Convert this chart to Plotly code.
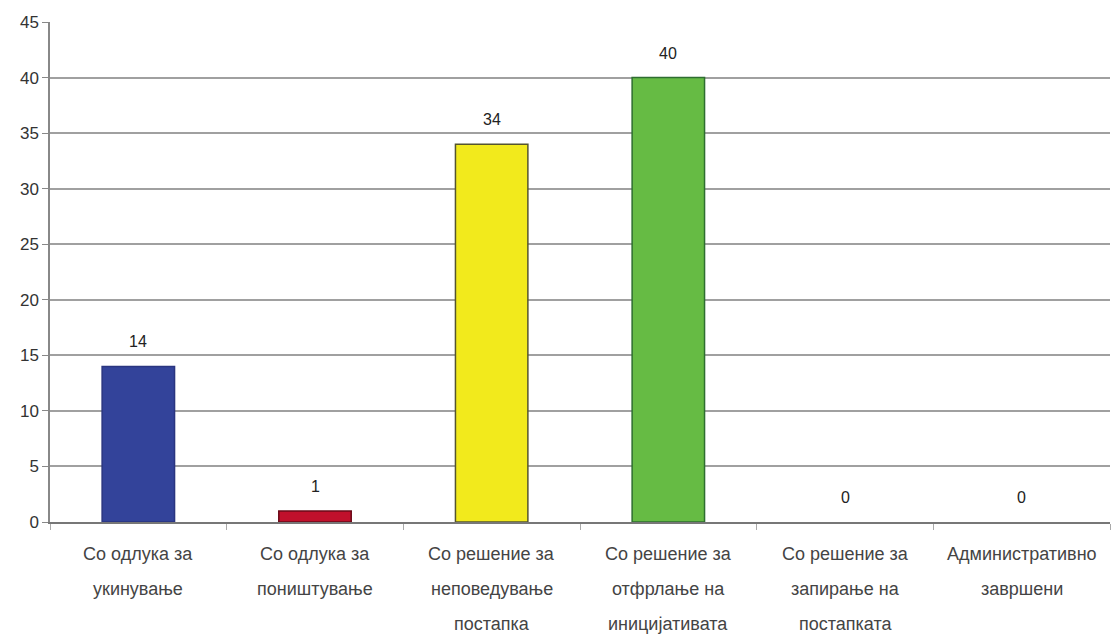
import plotly.graph_objects as go

categories = [
    "Со одлука за<br>укинување",
    "Со одлука за<br>поништување",
    "Со решение за<br>неповедување<br>постапка",
    "Со решение за<br>отфрлање на<br>иницијативата",
    "Со решение за<br>запирање на<br>постапката",
    "Административно<br>завршени",
]
values = [14, 1, 34, 40, 0, 0]
bar_colors = ["#33439a", "#c0102c", "#f2ea1c", "#66bb44", "#66bb44", "#66bb44"]
line_colors = ["#2a3580", "#6a0a18", "#55552e", "#2e6e30", "#2e6e30", "#2e6e30"]
line_widths = [1.5, 1.5, 1.5, 1.5, 0, 0]
y_ticks = [0, 5, 10, 15, 20, 25, 30, 35, 40, 45]

FONT = "Liberation Sans, Arial"

fig = go.Figure(go.Bar(
    x=categories, y=values,
    marker=dict(color=bar_colors, line=dict(color=line_colors, width=line_widths)),
    width=0.41,
    cliponaxis=False,
))

annotations = []
# value labels above bars
for cat, v in zip(categories, values):
    annotations.append(dict(
        x=cat, y=v, xref="x", yref="y", text=str(v), showarrow=False,
        yanchor="bottom", yshift=14,
        font=dict(size=16, color="#222222", family=FONT),
    ))
# category labels, one annotation per line for wider line spacing
for cat in categories:
    for i, line in enumerate(cat.split("<br>")):
        annotations.append(dict(
            x=cat, y=0, xref="x", yref="y", text=line, showarrow=False,
            yanchor="middle", yshift=-32 - 35 * i,
            font=dict(size=18, color="#444444", family=FONT),
        ))

fig.update_layout(
    width=1111, height=637,
    margin=dict(l=50, r=1, t=22, b=115),
    paper_bgcolor="white", plot_bgcolor="white",
    showlegend=False,
    font=dict(family=FONT, size=16, color="#333333"),
    annotations=annotations,
    xaxis=dict(
        automargin=False,
        showline=True, linecolor="#777777", linewidth=1.5,
        ticks="outside", tickson="boundaries", ticklen=6, tickcolor="#aaaaaa",
        showticklabels=False,
        showgrid=False,
    ),
    yaxis=dict(
        automargin=False,
        range=[0, 45], tickvals=y_ticks,
        showline=True, linecolor="#888888", linewidth=1.5,
        ticks="outside", ticklen=6, tickcolor="#888888",
        showgrid=True, gridcolor="#a0a0a0", gridwidth=1.5,
        zeroline=False,
        tickfont=dict(size=17, color="#333333"),
    ),
)

fig.write_html(
    "out.html",
    config={"displayModeBar": False},
    post_script="document.body.style.margin='0';document.body.style.overflow='hidden';",
)
